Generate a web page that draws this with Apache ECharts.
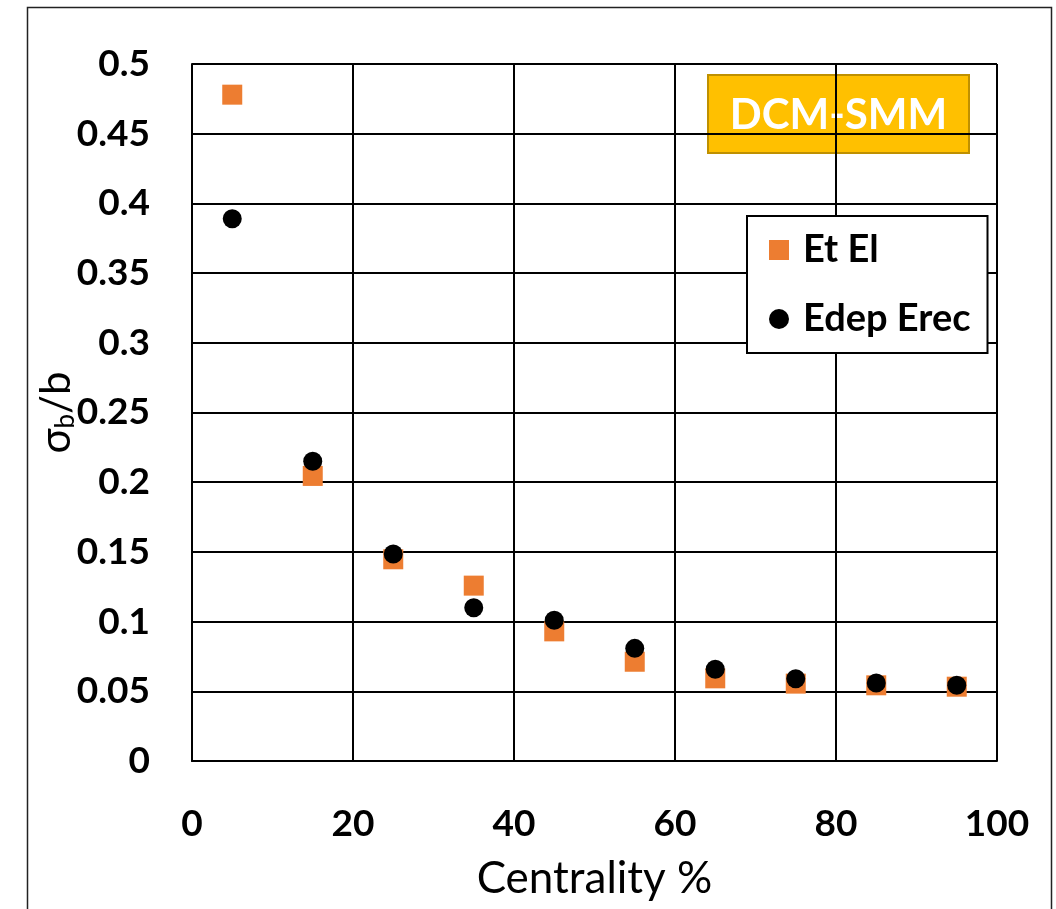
<!DOCTYPE html>
<html>
<head>
<meta charset="utf-8">
<script src="https://cdn.jsdelivr.net/npm/echarts@6/dist/echarts.min.js"></script>
<style>
html,body{margin:0;padding:0;background:#fff;}
#c{width:1056px;height:909px;}
</style>
</head>
<body>
<div id="c"></div>
<script>
const centrality = [5, 15, 25, 35, 45, 55, 65, 75, 85, 95];
const etEl = [0.478, 0.2045, 0.1447, 0.1258, 0.093, 0.0712, 0.0593, 0.0555, 0.0543, 0.0533];
const edepErec = [0.389, 0.215, 0.1485, 0.110, 0.101, 0.0808, 0.0658, 0.059, 0.056, 0.0543];
const seriesNames = ['Et El', 'Edep Erec'];
const titleText = 'DCM-SMM';

const FONT = 'Lato, "Open Sans", sans-serif';
const chart = echarts.init(document.getElementById('c'), null, {renderer: 'canvas'});
chart.setOption({
  backgroundColor: '#fff',
  animation: false,
  grid: {left: 192, right: 59, top: 64, bottom: 148, containLabel: false},
  xAxis: {
    type: 'value', min: 0, max: 100, interval: 20,
    name: 'Centrality %', nameLocation: 'middle', nameGap: 96, nameMoveOverlap: false,
    nameTextStyle: {fontFamily: FONT, fontSize: 44, color: '#000'},
    axisLine: {show: true, lineStyle: {color: '#000', width: 2}},
    axisTick: {show: false},
    axisLabel: {fontFamily: FONT, fontSize: 37, fontWeight: 'bold', color: '#000', margin: 45},
    splitLine: {show: true, lineStyle: {color: '#000', width: 2}}
  },
  yAxis: {
    type: 'value', min: 0, max: 0.5, interval: 0.05,
    name: '{a|σ}{b|b}{a|/b}', nameLocation: 'middle', nameGap: 113, nameRotate: 90, nameMoveOverlap: false,
    nameTextStyle: {
      rich: {
        a: {fontFamily: FONT, fontSize: 42, color: '#000', lineHeight: 46, verticalAlign: 'middle'},
        b: {fontFamily: FONT, fontSize: 26, color: '#000', lineHeight: 26, verticalAlign: 'bottom'}
      }
    },
    axisLine: {show: true, lineStyle: {color: '#000', width: 2}},
    axisTick: {show: false},
    axisLabel: {fontFamily: FONT, fontSize: 37, fontWeight: 'bold', color: '#000', margin: 42},
    splitLine: {show: true, lineStyle: {color: '#000', width: 2}}
  },
  legend: {
    orient: 'vertical', left: 747, top: 216,
    padding: [15, 17, 15, 22],
    itemGap: 31, itemWidth: 20, itemHeight: 20,
    backgroundColor: '#fff',
    borderColor: '#000', borderWidth: 2,
    textStyle: {fontFamily: FONT, fontSize: 38, fontWeight: 'bold', color: '#000', lineHeight: 38, padding: [0, 0, 0, 9]},
    data: [{name: seriesNames[0], icon: 'rect'}, {name: seriesNames[1], icon: 'circle'}]
  },
  graphic: [
    {type: 'rect', left: 25, top: 5, shape: {width: 1024, height: 920}, style: {fill: 'none', stroke: '#222', lineWidth: 1.5}, silent: true, z: 0},
    {type: 'group', left: 707, top: 74, z: 100, children: [
      {type: 'rect', shape: {x: 0, y: 0, width: 261, height: 78}, style: {fill: '#FFC000', stroke: '#BF9000', lineWidth: 2}},
      {type: 'text', x: 130.5, y: 40, style: {text: titleText, fill: '#fff', font: 'bold 42px ' + FONT, textAlign: 'center', textVerticalAlign: 'middle'}}
    ]}
  ],
  series: [
    {name: seriesNames[0], type: 'scatter', symbol: 'rect', symbolSize: 20, itemStyle: {color: '#ED7D31', opacity: 1},
     data: centrality.map((x, i) => [x, etEl[i]]), z: 3},
    {name: seriesNames[1], type: 'scatter', symbol: 'circle', symbolSize: 19, itemStyle: {color: '#000', opacity: 1},
     data: centrality.map((x, i) => [x, edepErec[i]]), z: 4}
  ]
});
</script>
</body>
</html>
